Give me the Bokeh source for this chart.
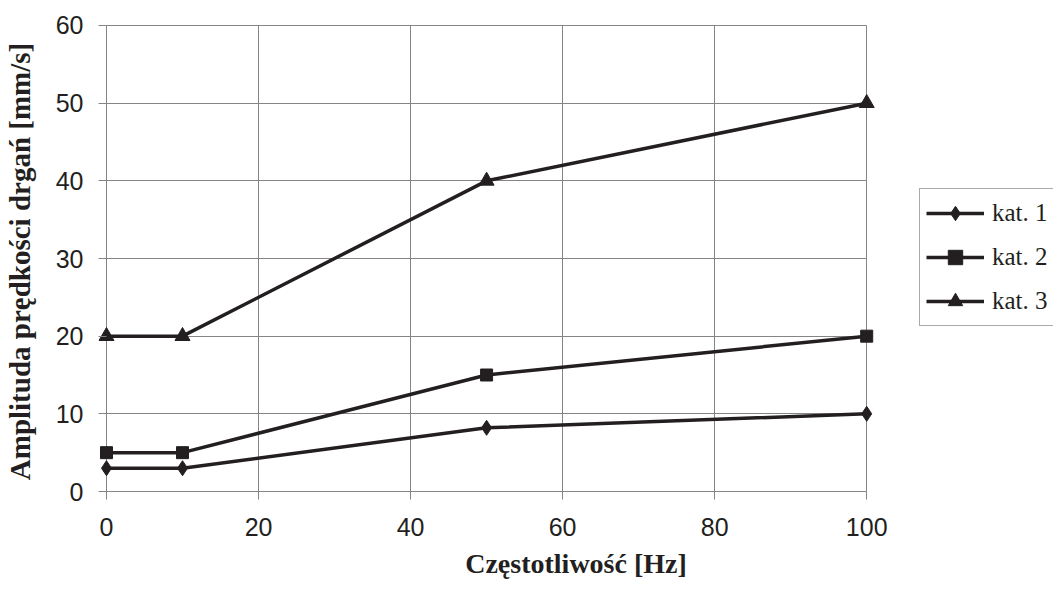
from bokeh.plotting import figure
from bokeh.models import Range1d, FixedTicker, Legend, LegendItem, Title
from bokeh.embed import file_html
from bokeh.resources import INLINE

# ---- data ----
freq = [0, 10, 50, 100]
kat1 = [3, 3, 8.2, 10]
kat2 = [5, 5, 15, 20]
kat3 = [20, 20, 40, 50]
series_names = ["kat. 1", "kat. 2", "kat. 3"]
x_ticks = [0, 20, 40, 60, 80, 100]
y_ticks = [0, 10, 20, 30, 40, 50, 60]
x_title = "Częstotliwość [Hz]"
y_title = "Amplituda prędkości drgań [mm/s]"

INK = "#231f20"
GRID = "#858585"

W, H = 1053, 591
LEFT, TOP, BOTTOM = 97, 23, 92
px_per_x = 7.61          # pixels per Hz inside the plot box
px_per_y = 7.767         # pixels per mm/s
pad_x = 8 / px_per_x
pad_yb = 8 / px_per_y
pad_yt = 2 / px_per_y
x_start = x_ticks[0] - pad_x
x_end = x_start + (W - LEFT) / px_per_x   # frame runs to the right edge to host the legend

p = figure(width=W, height=H, output_backend="svg", toolbar_location=None,
           x_range=Range1d(x_start, x_end),
           y_range=Range1d(y_ticks[0] - pad_yb, y_ticks[-1] + pad_yt),
           min_border_left=LEFT, min_border_top=TOP, min_border_right=0,
           min_border_bottom=BOTTOM)
p.outline_line_color = None
p.background_fill_color = "white"
p.border_fill_color = "white"

for ax, ticks in ((p.xaxis[0], x_ticks), (p.yaxis[0], y_ticks)):
    ax.ticker = FixedTicker(ticks=ticks)
    ax.axis_line_color = None
    ax.major_tick_in = 8
    ax.major_tick_out = 0
    ax.major_tick_line_color = GRID
    ax.major_tick_line_width = 1
    ax.minor_tick_line_color = None
    ax.major_label_text_font = "Liberation Sans"
    ax.major_label_text_font_size = "25px"
    ax.major_label_text_color = INK
    ax.axis_label_text_font = "Liberation Serif"
    ax.axis_label_text_font_style = "bold"
    ax.axis_label_text_color = INK

p.yaxis.axis_label = y_title
p.yaxis.axis_label_text_font_size = "29px"
p.xaxis.major_label_standoff = 18
p.yaxis.major_label_standoff = 15
p.yaxis.axis_label_standoff = 17

# x-axis title centred under the 0..100 box
frame_w = W - LEFT
box_center = 8 + (x_ticks[-1] - x_ticks[0]) / 2 * px_per_x
xt = Title(text=x_title, align="center", offset=box_center - frame_w / 2,
           text_font="Liberation Serif", text_font_style="bold",
           text_font_size="28px", text_color=INK, standoff=14)
p.add_layout(xt, "below")

p.xgrid.grid_line_color = GRID
p.ygrid.grid_line_color = GRID
p.xgrid.grid_line_width = 1
p.ygrid.grid_line_width = 1
p.xgrid.cross_bounds = (y_ticks[0], y_ticks[-1])
p.ygrid.cross_bounds = (x_ticks[0], x_ticks[-1])

markers = ["diamond", "square", "triangle"]
sizes = [15, 12, 15]
items = []
for name, ys, mk, sz in zip(series_names, [kat1, kat2, kat3], markers, sizes):
    lr = p.line(freq, ys, line_color=INK, line_width=3.5)
    sr = p.scatter(freq, ys, marker=mk, size=sz, fill_color=INK, line_color=INK)
    items.append(LegendItem(label=name, renderers=[lr, sr]))

legend = Legend(items=items, location=(821, 173),
                glyph_width=58, glyph_height=36, label_height=36,
                spacing=8, padding=6, margin=0, label_standoff=8,
                label_text_font="Liberation Serif", label_text_font_size="25px",
                label_text_color=INK,
                border_line_color="#555555", border_line_width=1,
                background_fill_color="white", background_fill_alpha=1.0)
p.add_layout(legend, "center")

open("out.html", "w").write(file_html(p, INLINE))
